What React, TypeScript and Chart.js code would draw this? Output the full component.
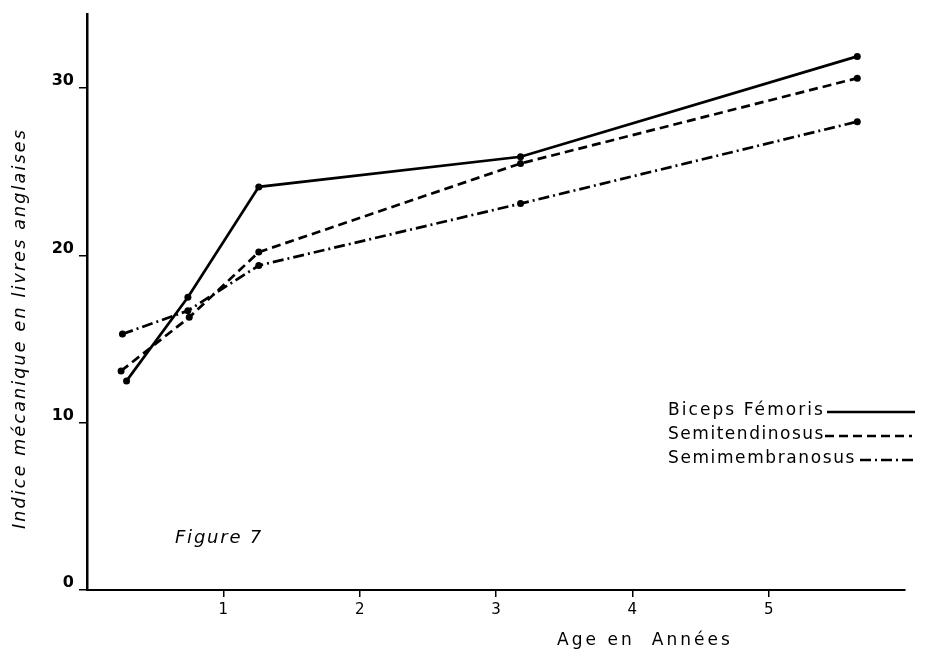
import React, { useEffect, useRef } from "react";
import { Chart, registerables } from "chart.js";

Chart.register(...registerables);

// Ages (années) read for each series
const agesBiceps = [0.29, 0.74, 1.26, 3.18, 5.65];
const agesSemitendinosus = [0.25, 0.75, 1.26, 3.18, 5.65];
const agesSemimembranosus = [0.26, 0.74, 1.26, 3.18, 5.65];

// Indice mécanique (livres anglaises)
const bicepsFemoris = [12.5, 17.5, 24.1, 25.9, 31.9];
const semitendinosus = [13.1, 16.3, 20.2, 25.5, 30.6];
const semimembranosus = [15.3, 16.7, 19.4, 23.1, 28.0];

const xTicks = [1, 2, 3, 4, 5];
const yTicks = [0, 10, 20, 30];

const seriesNames = ["Biceps Fémoris", "Semitendinosus", "Semimembranosus"];
const xTitle = "Age en  Années";
const yTitle = "Indice mécanique en livres anglaises";
const figureLabel = "Figure 7";

const FONT = "'DejaVu Sans', sans-serif";
const dashPatterns: number[][] = [[], [9, 5], [11, 4, 2, 4]];

function drawFitted(
  ctx: CanvasRenderingContext2D,
  text: string,
  x: number,
  y: number,
  width: number,
  font: string
) {
  ctx.font = font;
  (ctx as any).letterSpacing = "0px";
  const w0 = ctx.measureText(text).width;
  const ls = (width - w0) / Math.max(1, text.length);
  (ctx as any).letterSpacing = ls + "px";
  ctx.fillText(text, x, y);
  (ctx as any).letterSpacing = "0px";
}

const textPlugin = {
  id: "figureTexts",
  afterDraw(chart: any) {
    const ctx: CanvasRenderingContext2D = chart.ctx;
    ctx.save();
    ctx.fillStyle = "#000";
    ctx.textAlign = "left";
    ctx.textBaseline = "alphabetic";

    // Legend block
    const legendRows = [
      { y: 415, width: 157, lineX0: 827, lineX1: 915, lineY: 412 },
      { y: 439, width: 157, lineX0: 825, lineX1: 912, lineY: 436 },
      { y: 463, width: 188, lineX0: 860, lineX1: 915, lineY: 460 },
    ];
    legendRows.forEach((r, i) => {
      drawFitted(ctx, seriesNames[i], 668, r.y, r.width, `17px ${FONT}`);
      ctx.beginPath();
      ctx.strokeStyle = "#000";
      ctx.lineWidth = 2.5;
      ctx.setLineDash(dashPatterns[i]);
      ctx.moveTo(r.lineX0, r.lineY);
      ctx.lineTo(r.lineX1, r.lineY);
      ctx.stroke();
    });
    ctx.setLineDash([]);

    // Figure label
    drawFitted(ctx, figureLabel, 175, 543, 88, `italic 18px ${FONT}`);

    // X title
    drawFitted(ctx, xTitle, 557, 645, 176, `17px ${FONT}`);

    // Y title (rotated)
    ctx.save();
    ctx.translate(20, 529);
    ctx.rotate(-Math.PI / 2);
    ctx.textBaseline = "middle";
    drawFitted(ctx, yTitle, 0, 0, 401, `italic 17.5px ${FONT}`);
    ctx.restore();

    ctx.restore();
  },
};

export default function App() {
  const canvasRef = useRef<HTMLCanvasElement | null>(null);

  useEffect(() => {
    if (!canvasRef.current) return;
    const mk = (xs: number[], ys: number[]) => xs.map((x, i) => ({ x, y: ys[i] }));
    const common = {
      borderColor: "#000",
      backgroundColor: "#000",
      borderWidth: 2.7,
      pointRadius: 3.5,
      pointBackgroundColor: "#000",
      pointBorderWidth: 0,
      fill: false,
      tension: 0,
      clip: false as any,
    };
    const chart = new Chart(canvasRef.current, {
      type: "line",
      data: {
        datasets: [
          { label: seriesNames[0], data: mk(agesBiceps, bicepsFemoris), borderDash: dashPatterns[0], ...common },
          { label: seriesNames[1], data: mk(agesSemitendinosus, semitendinosus), borderDash: dashPatterns[1], ...common },
          { label: seriesNames[2], data: mk(agesSemimembranosus, semimembranosus), borderDash: dashPatterns[2], ...common },
        ],
      },
      options: {
        animation: false,
        responsive: true,
        maintainAspectRatio: false,
        layout: { padding: { left: 0, top: 8, right: 21, bottom: 0 } },
        plugins: {
          legend: { display: false },
          tooltip: { enabled: false },
          title: { display: false },
        },
        scales: {
          x: {
            type: "linear",
            min: 0,
            max: 6,
            afterBuildTicks: (axis: any) => {
              axis.ticks = xTicks.map((v) => ({ value: v }));
            },
            afterFit: (axis: any) => {
              axis.height = 66;
            },
            grid: {
              display: true,
              drawOnChartArea: false,
              drawTicks: true,
              tickLength: 7,
              color: "#000",
              lineWidth: 1.5,
            },
            border: { display: true, color: "#000", width: 2 },
            ticks: {
              color: "#000",
              font: { family: FONT, size: 15 },
              padding: 4,
              maxRotation: 0,
            },
          },
          y: {
            type: "linear",
            min: 0,
            max: 34.4,
            afterBuildTicks: (axis: any) => {
              axis.ticks = yTicks.map((v) => ({ value: v }));
            },
            afterFit: (axis: any) => {
              axis.width = 87;
            },
            grid: {
              display: true,
              drawOnChartArea: false,
              drawTicks: true,
              tickLength: 8,
              color: "#000",
              lineWidth: 1.5,
            },
            border: { display: true, color: "#000", width: 2.5 },
            ticks: {
              color: "#000",
              font: { family: FONT, size: 16, weight: "bold" },
              padding: 5,
              labelOffset: -7,
            },
          },
        },
      },
      plugins: [textPlugin],
    });
    return () => chart.destroy();
  }, []);

  return (
    <div
      style={{
        position: "fixed",
        left: 0,
        top: 0,
        width: 926,
        height: 656,
        background: "#fff",
      }}
    >
      <canvas ref={canvasRef} />
    </div>
  );
}
